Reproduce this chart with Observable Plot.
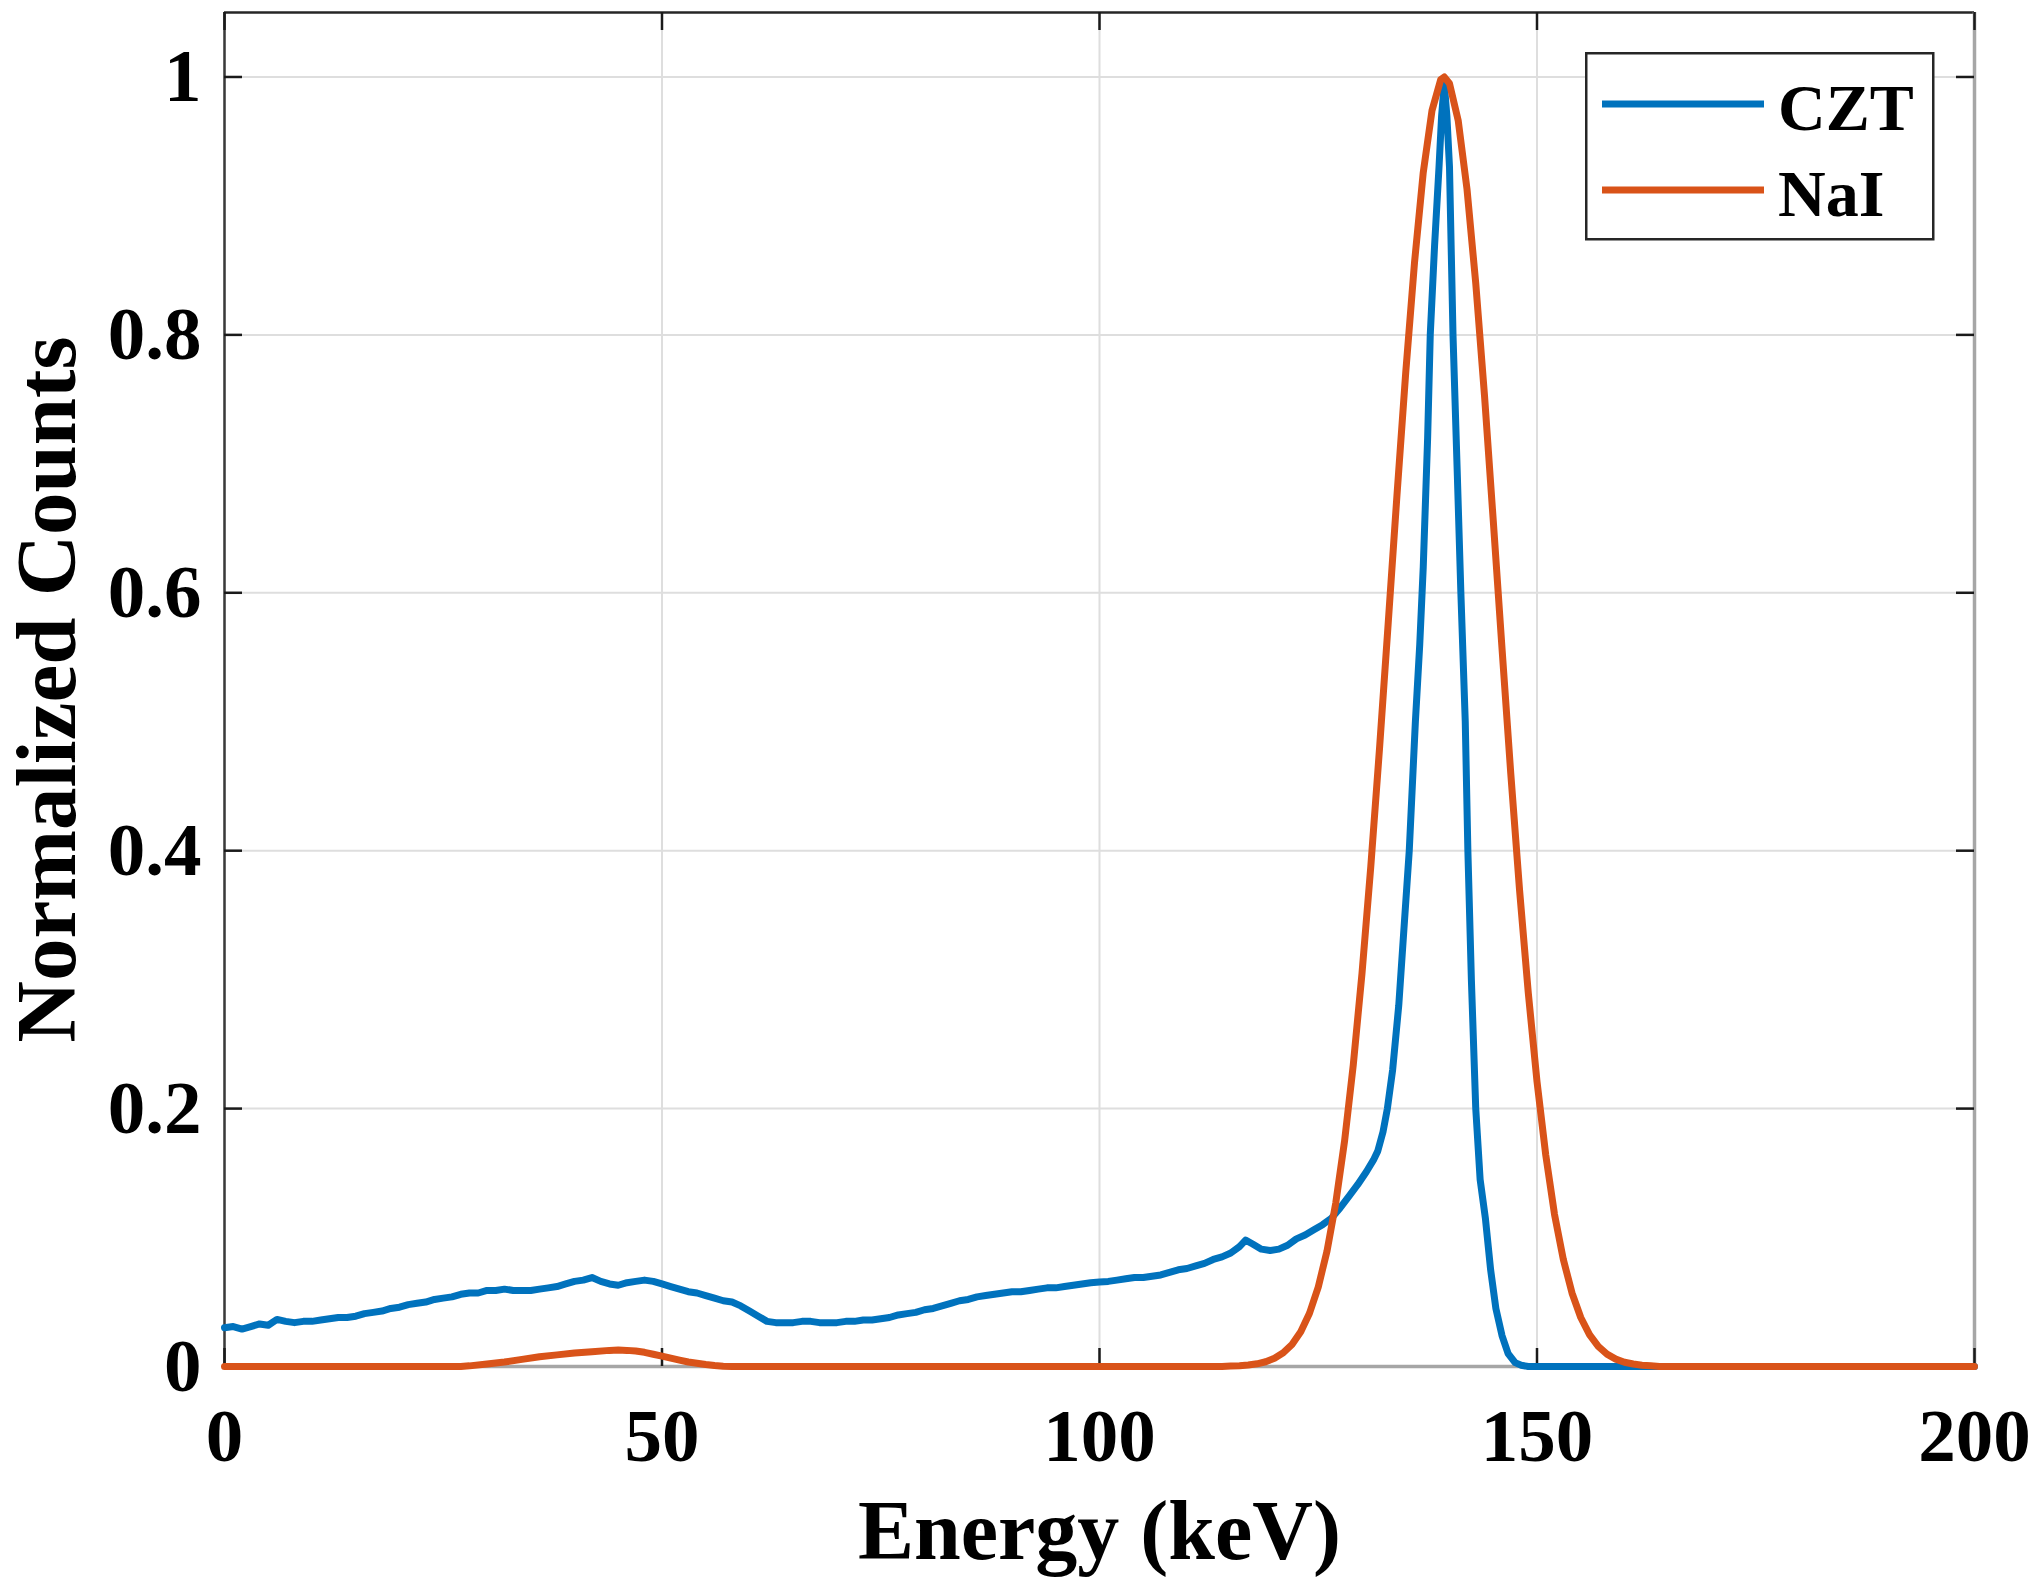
<!DOCTYPE html>
<html><head><meta charset="utf-8">
<script src="https://cdn.jsdelivr.net/npm/d3@7"></script>
<script src="https://cdn.jsdelivr.net/npm/@observablehq/plot@0.6"></script>
<style>
html,body{margin:0;padding:0;background:#fff;}
#wrap{position:relative;width:2040px;height:1589px;}
</style></head><body><div id="wrap"></div>
<script>
const xTicks = [0, 50, 100, 150, 200];
const yTicks = [0, 0.2, 0.4, 0.6, 0.8, 1];
const xDomain = [0, 200];
const yDomain = [0, 1.05];
const xTitle = "Energy (keV)";
const yTitle = "Normalized Counts";
const seriesNames = ["CZT", "NaI"];
const seriesColors = ["#0072BD", "#D95319"];

const cztEnergy = [0,1,2,3,4,5,6,7,8,9,10,11,12,13,14,15,16,17,18,19,20,21,22,23,24,25,26,27,28,29,30,31,32,33,34,35,36,37,38,39,40,41,42,43,44,45,46,47,48,49,50,51,52,53,54,55,56,57,58,59,60,61,62,63,64,65,66,67,68,69,70,71,72,73,74,75,76,77,78,79,80,81,82,83,84,85,86,87,88,89,90,91,92,93,94,95,96,97,98,99,100,101,102,103,104,105,106,107,108,109,110,111,112,113,114,115,116,116.7,117.5,118.5,119.5,120.5,121.5,122.5,123.5,124.5,125.5,126.5,127.5,128.5,129.5,130.5,131.3,131.8,132.4,132.9,133.5,134.2,134.8,135.4,136.1,136.6,137.0,137.5,137.8,138.3,138.8,139.1,139.4,139.7,140.0,140.4,140.9,141.3,141.8,142.1,142.5,143.0,143.5,144.1,144.7,145.3,146.0,146.7,147.5,148.2,149,200];
const cztCounts = [0.030,0.031,0.029,0.031,0.033,0.032,0.0365,0.035,0.034,0.035,0.035,0.036,0.037,0.038,0.038,0.039,0.041,0.042,0.043,0.045,0.046,0.048,0.049,0.050,0.052,0.053,0.054,0.056,0.057,0.057,0.059,0.059,0.060,0.059,0.059,0.059,0.060,0.061,0.062,0.064,0.066,0.067,0.069,0.066,0.064,0.063,0.065,0.066,0.067,0.066,0.064,0.062,0.060,0.058,0.057,0.055,0.053,0.051,0.050,0.047,0.043,0.039,0.035,0.034,0.034,0.034,0.035,0.035,0.034,0.034,0.034,0.035,0.035,0.036,0.036,0.037,0.038,0.040,0.041,0.042,0.044,0.045,0.047,0.049,0.051,0.052,0.054,0.055,0.056,0.057,0.058,0.058,0.059,0.060,0.061,0.061,0.062,0.063,0.064,0.065,0.0656,0.066,0.067,0.068,0.069,0.069,0.070,0.071,0.073,0.075,0.076,0.078,0.080,0.083,0.085,0.088,0.093,0.098,0.095,0.091,0.090,0.091,0.094,0.099,0.102,0.106,0.110,0.115,0.123,0.132,0.141,0.151,0.160,0.167,0.182,0.200,0.230,0.280,0.340,0.400,0.500,0.560,0.620,0.720,0.800,0.870,0.930,0.970,0.995,0.970,0.930,0.800,0.690,0.600,0.500,0.400,0.300,0.200,0.145,0.115,0.075,0.045,0.024,0.010,0.003,0.001,0,0];

const naiEnergy = [0,27,28,30,32,34,36,38,40,42,44,45,46,47,48,49,50,51,52,53,54,55,56,57,58,114,115,116,117,118,119,120,121,122,123,124,125,126,127,128,129,130,131,132,133,134,135,136,137,138,139,139.4,140,141,142,143,144,145,146,147,148,149,150,151,152,153,154,155,156,157,158,159,160,161,162,163,164,200];
const naiCounts = [0,0,0.0005,0.002,0.0035,0.0055,0.0075,0.009,0.0105,0.0115,0.0125,0.0127,0.0125,0.012,0.011,0.0095,0.008,0.0065,0.005,0.0035,0.0025,0.0015,0.0007,0.0002,0,0,0.0003,0.0006,0.0012,0.0021,0.0037,0.0064,0.0106,0.0171,0.0269,0.0413,0.0616,0.0895,0.1267,0.1744,0.2337,0.3049,0.3874,0.479,0.577,0.676,0.771,0.856,0.926,0.974,0.998,1.0,0.995,0.966,0.913,0.840,0.753,0.656,0.557,0.460,0.370,0.290,0.221,0.164,0.118,0.0833,0.057,0.038,0.0247,0.0156,0.0096,0.0057,0.0033,0.0019,0.001,0.0005,0,0];

const W = 2040, H = 1589, ML = 224, MR = 66, MT = 12, MB = 223;
const innerW = W - ML - MR, innerH = H - MT - MB;
const tickLen = 18;
const serif = "'Liberation Serif','Times New Roman',serif";

const czt = cztEnergy.map((e, i) => ({e, v: cztCounts[i]}));
const nai = naiEnergy.map((e, i) => ({e, v: naiCounts[i]}));

const plot = Plot.plot({
  width: W, height: H,
  marginLeft: ML, marginRight: MR, marginTop: MT, marginBottom: MB,
  style: {fontFamily: serif, fontWeight: "bold", background: "#fff", color: "#000", overflow: "visible"},
  x: {domain: xDomain, label: null},
  y: {domain: yDomain, label: null},
  marks: [
    Plot.ruleX(xTicks, {stroke: "#dedede", strokeWidth: 2}),
    Plot.ruleY(yTicks, {stroke: "#dedede", strokeWidth: 2}),
    Plot.ruleX([xDomain[0]], {stroke: "#3a3a3a", strokeWidth: 2.5}),
    Plot.ruleY([yDomain[1]], {stroke: "#262626", strokeWidth: 2.5}),
    Plot.ruleX([xDomain[1]], {stroke: "#a6a6a6", strokeWidth: 3.5}),
    Plot.ruleY([yDomain[0]], {stroke: "#a6a6a6", strokeWidth: 3.5}),
    Plot.ruleX(xTicks, {stroke: "#1a1a1a", strokeWidth: 2.5, insetTop: innerH - tickLen}),
    Plot.ruleX(xTicks, {stroke: "#1a1a1a", strokeWidth: 2.5, insetBottom: innerH - tickLen}),
    Plot.ruleY(yTicks, {stroke: "#1a1a1a", strokeWidth: 2.5, insetRight: innerW - tickLen}),
    Plot.ruleY(yTicks, {stroke: "#1a1a1a", strokeWidth: 2.5, insetLeft: innerW - tickLen}),
    Plot.line(czt, {x: "e", y: "v", stroke: seriesColors[0], strokeWidth: 7, strokeLinejoin: "round"}),
    Plot.line(nai, {x: "e", y: "v", stroke: seriesColors[1], strokeWidth: 7, strokeLinejoin: "round"}),
    Plot.axisX({ticks: xTicks, tickSize: 0, tickPadding: 41, fontSize: 75, label: null, tickFormat: d => String(d)}),
    Plot.axisY({ticks: yTicks, tickSize: 0, tickPadding: 23, fontSize: 75, label: null, tickFormat: d => String(d)}),
    Plot.text([xTitle], {frameAnchor: "bottom", dy: 192, textAnchor: "middle", lineAnchor: "bottom", fontSize: 84, text: d => d}),
    Plot.text([yTitle], {frameAnchor: "left", dx: -177, rotate: -90, textAnchor: "middle", lineAnchor: "middle", fontSize: 85, text: d => d})
  ]
});
document.getElementById("wrap").appendChild(plot);

// legend overlay
const leg = d3.select("#wrap").append("svg")
  .attr("width", 350).attr("height", 190)
  .style("position", "absolute").style("left", "1585px").style("top", "52px");
leg.append("rect").attr("x", 1.25).attr("y", 1.25).attr("width", 347).attr("height", 186)
  .attr("fill", "#fff").attr("stroke", "#262626").attr("stroke-width", 2.5);
seriesNames.forEach((n, i) => {
  const cy = 52 + i * 86;
  leg.append("line").attr("x1", 17).attr("x2", 179).attr("y1", cy).attr("y2", cy)
    .attr("stroke", seriesColors[i]).attr("stroke-width", 7);
  leg.append("text").attr("x", 193).attr("y", cy + 26).text(n)
    .attr("font-family", serif).attr("font-weight", "bold").attr("font-size", 66).attr("fill", "#000");
});
</script></body></html>
